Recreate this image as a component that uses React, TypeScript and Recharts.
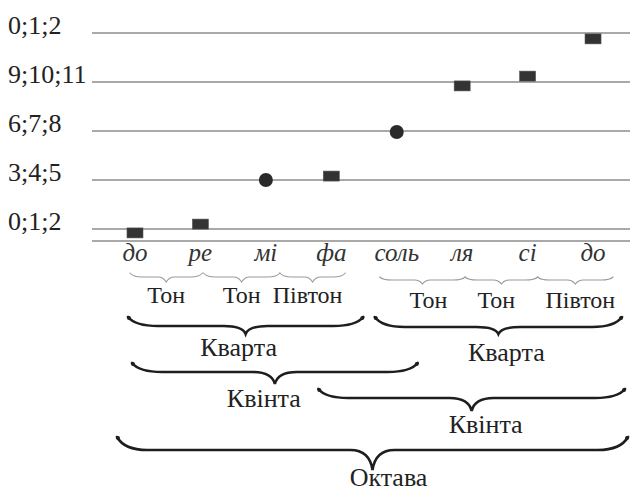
import * as React from "react";
import {
  ScatterChart,
  Scatter,
  XAxis,
  YAxis,
  CartesianGrid,
  ReferenceArea,
} from "recharts";

// ноти та висота (у смугах по 3 півтони)
const NOTES = ["до", "ре", "мі", "фа", "соль", "ля", "сі", "до"];
const PITCH = [-0.08, 0.1, 1.0, 1.08, 1.98, 2.92, 3.12, 3.88];
const MARKER = ["square", "square", "circle", "square", "circle", "square", "square", "square"];
const Y_LABELS = ["0;1;2", "3;4;5", "6;7;8", "9;10;11", "0;1;2"];

const STEPS = [
  { name: "Тон", from: 0, to: 1 },
  { name: "Тон", from: 1, to: 2 },
  { name: "Півтон", from: 2, to: 3 },
  { name: "Тон", from: 4, to: 5 },
  { name: "Тон", from: 5, to: 6 },
  { name: "Півтон", from: 6, to: 7 },
];

const INTERVALS = [
  { name: "Кварта", from: 0, to: 3 },
  { name: "Кварта", from: 4, to: 7 },
  { name: "Квінта", from: 0, to: 4 },
  { name: "Квінта", from: 3, to: 7 },
  { name: "Октава", from: 0, to: 7 },
];

// layout of the braces (pixels): end shifts, rows, label offsets
const STEP_LAYOUT = [
  { dx: [-5, 2], yEnd: 273, yLine: 277, yTip: 282, base: 303, ldx: 0 },
  { dx: [3, 14], yEnd: 273, yLine: 277, yTip: 282, base: 303, ldx: 0 },
  { dx: [14, 14], yEnd: 273, yLine: 277, yTip: 282, base: 303, ldx: -5 },
  { dx: [-17, 3], yEnd: 277, yLine: 280, yTip: 284, base: 308, ldx: 6 },
  { dx: [3, 10], yEnd: 277, yLine: 280, yTip: 284, base: 308, ldx: -5 },
  { dx: [10, 20], yEnd: 277, yLine: 280, yTip: 284, base: 308, ldx: 5 },
];

const INTERVAL_LAYOUT = [
  { dx: [-7, 32], yEnd: 317, yLine: 326, yTip: 334, base: 356, ldx: -7 },
  { dx: [-22, 29], yEnd: 317, yLine: 327, yTip: 334, base: 361, ldx: 8 },
  { dx: [-3, 21], yEnd: 363, yLine: 372, yTip: 384, base: 407, ldx: -11 },
  { dx: [-13, 32], yEnd: 389, yLine: 398, yTip: 411, base: 433, ldx: 14 },
  { dx: [-18, 35], yEnd: 437, yLine: 450, yTip: 470, base: 486, ldx: 16 },
];

const FONT = "Liberation Serif, serif";

const data = NOTES.map((n, i) => ({ x: i, y: PITCH[i], marker: MARKER[i], note: n }));

function bracePath(x1: number, x2: number, yEnd: number, yLine: number, yTip: number, end: number, tip: number) {
  const m = (x1 + x2) / 2;
  return (
    `M${x1},${yEnd} Q${x1 + end * 0.25},${yLine} ${x1 + end},${yLine} ` +
    `L${m - tip},${yLine} Q${m - 3},${yLine} ${m},${yTip} ` +
    `Q${m + 3},${yLine} ${m + tip},${yLine} ` +
    `L${x2 - end},${yLine} Q${x2 - end * 0.25},${yLine} ${x2},${yEnd}`
  );
}

function makeBrace(name: string, lay: any, big: boolean) {
  return (p: any) => {
    const x1 = p.x + lay.dx[0];
    const x2 = p.x + p.width + lay.dx[1];
    const m = (x1 + x2) / 2;
    return (
      <g>
        <path
          d={bracePath(x1, x2, lay.yEnd, lay.yLine, lay.yTip, big ? 30 : 12, big ? 22 : 8)}
          fill="none"
          stroke={big ? "#1e1e1e" : "#9a9a9a"}
          strokeWidth={big ? 2.6 : 1.1}
          strokeLinecap="round"
        />
        {big && <circle cx={x1 + 1} cy={lay.yEnd + 1} r={2} fill="#1e1e1e" />}
        {big && <circle cx={x2 - 1} cy={lay.yEnd + 1} r={2} fill="#1e1e1e" />}
        <text
          x={m + lay.ldx}
          y={lay.base}
          textAnchor="middle"
          style={{ fontFamily: FONT }}
          fontSize={big ? 26 : 24}
          fill="#222"
        >
          {name}
        </text>
      </g>
    );
  };
}

const NoteTick = (props: any) => {
  const { x, y, payload } = props;
  return (
    <text x={x} y={y + 12} textAnchor="middle" style={{ fontFamily: FONT, fontStyle: "italic" }} fontSize={25} fill="#333">
      {NOTES[payload.value]}
    </text>
  );
};

const BandTick = (props: any) => {
  const { y, payload } = props;
  return (
    <text x={8} y={y + 1} textAnchor="start" style={{ fontFamily: FONT }} fontSize={26} fill="#222">
      {Y_LABELS[payload.value]}
    </text>
  );
};

const NoteMark = (props: any) => {
  const { cx, cy, payload } = props;
  if (payload.marker === "circle") {
    return <circle cx={cx} cy={cy} r={7} fill="#2a2a2a" />;
  }
  return <rect x={cx - 8} y={cy - 5} width={16} height={10} fill="#333" stroke="#555" strokeWidth={0.6} />;
};

export default function App() {
  return (
    <div style={{ position: "absolute", left: 0, top: 0, width: 630, height: 493, background: "#fff" }}>
      <ScatterChart width={630} height={493} margin={{ top: 33, right: 0, bottom: 222, left: 0 }}>
        <CartesianGrid vertical={false} stroke="#8c8c8c" strokeWidth={1.4} />
        <XAxis
          type="number"
          dataKey="x"
          domain={[-0.657, 7.565]}
          ticks={[0, 1, 2, 3, 4, 5, 6, 7]}
          interval={0}
          height={30}
          axisLine={false}
          tickLine={false}
          tick={<NoteTick />}
        />
        <YAxis
          type="number"
          dataKey="y"
          domain={[-0.245, 4]}
          ticks={[0, 1, 2, 3, 4]}
          interval={0}
          width={92}
          axisLine={false}
          tickLine={false}
          tick={<BandTick />}
        />
        {STEPS.map((s, i) => (
          <ReferenceArea
            key={"s" + i}
            x1={s.from}
            x2={s.to}
            ifOverflow="visible"
            shape={makeBrace(s.name, STEP_LAYOUT[i], false)}
          />
        ))}
        {INTERVALS.map((s, i) => (
          <ReferenceArea
            key={"i" + i}
            x1={s.from}
            x2={s.to}
            ifOverflow="visible"
            shape={makeBrace(s.name, INTERVAL_LAYOUT[i], true)}
          />
        ))}
        <Scatter data={data} isAnimationActive={false} shape={<NoteMark />} />
      </ScatterChart>
    </div>
  );
}
